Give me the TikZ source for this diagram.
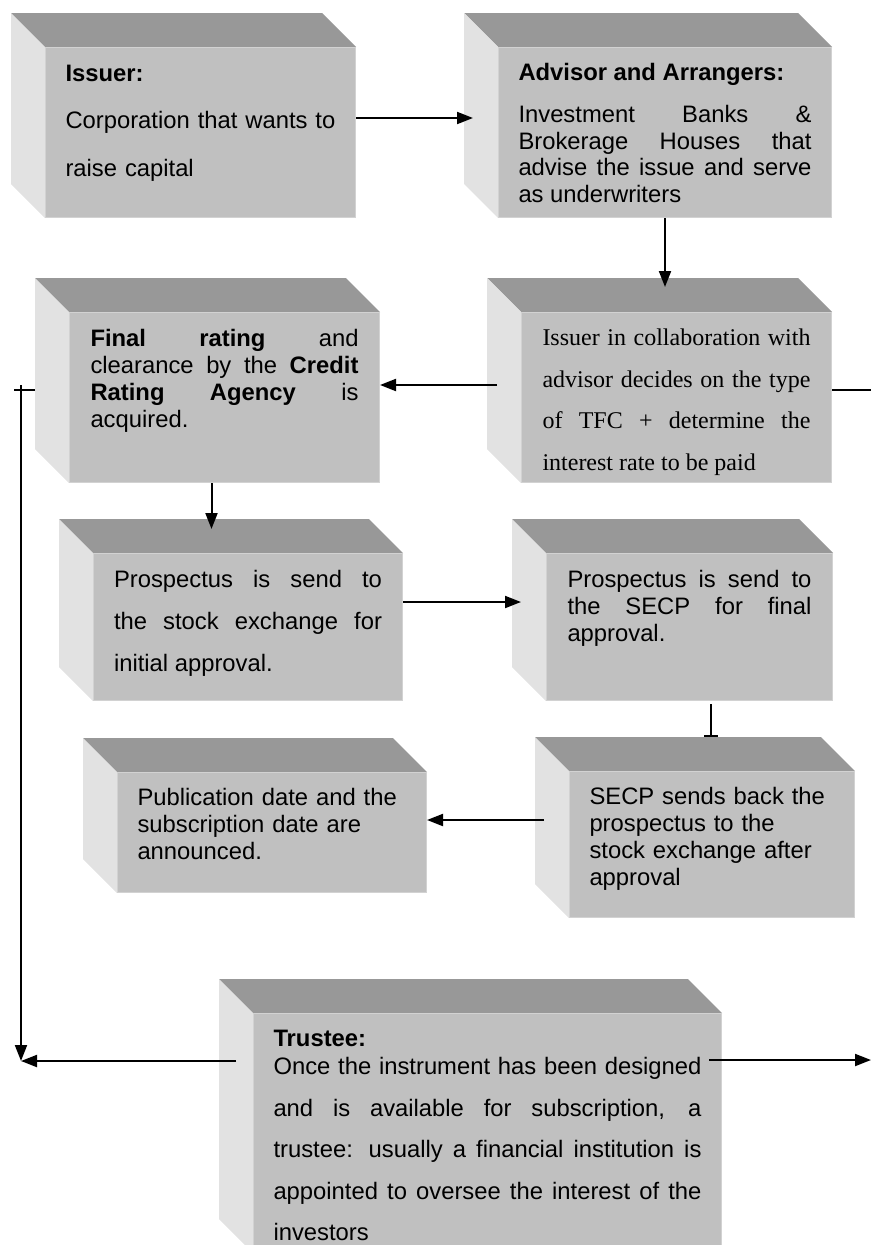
\documentclass[tikz,border=0pt]{standalone}
\usepackage{fontspec}
\setmainfont{Liberation Sans}
\newfontfamily\timesfont{Liberation Serif}
\usepackage{xcolor}
\usepackage{tikz}
\usetikzlibrary{
  positioning,
  arrows.meta,
  backgrounds,
  calc
}
\hbadness=10000
\definecolor{frontgray}{RGB}{192,192,192}
\definecolor{topgray}{RGB}{152,152,152}
\definecolor{sidegray}{RGB}{226,226,226}
\definecolor{edgegray}{RGB}{210,210,210}
\definecolor{arrowcolor}{RGB}{0,0,0}
\tikzset{
  frontface/.style={
    rectangle, anchor=north west, fill=frontgray, draw=edgegray, line width=1pt,
    inner xsep=20pt, inner ysep=0pt, text height=34pt, align=justify,
    font=\fontsize{23.8}{27}\selectfont
  },
  topface/.style={fill=topgray},
  sideface/.style={fill=sidegray},
  flowarrow/.style={
    -{Triangle[length=16pt,width=12pt]}, line width=2pt, draw=arrowcolor
  },
  stoparrow/.style={
    -{Bar[width=14pt]}, line width=2pt, draw=arrowcolor
  },
  railline/.style={
    line width=2pt, draw=arrowcolor
  }
}

\begin{document}
\begin{tikzpicture}[x=1pt, y=-1pt]
        \useasboundingbox (0,0) rectangle (871,1245);
        % front faces
        \node[frontface, minimum width=310pt, text width=270pt, text depth=136pt, align=left,
              font=\fontsize{23.8}{48}\selectfont] (issuer) at (45,47)
          {\textbf{Issuer:}\\[-1pt]Corporation that wants to\\raise capital};
        \node[frontface, minimum width=333pt, text width=293pt, text height=33pt, text depth=137pt,
              font=\fontsize{23.8}{26.7}\selectfont] (advisor) at (498,47)
          {\textbf{Advisor and Arrangers:}\\[15.3pt]Investment Banks \&\linebreak
           Brokerage Houses that\linebreak advise the issue and serve\linebreak as underwriters};
        \node[frontface, minimum width=310pt, text width=268pt, inner xsep=21pt, text height=33pt,
              text depth=137pt, font=\timesfont\fontsize{24}{41.5}\selectfont] (collab) at (521,312)
          {Issuer in collaboration with\linebreak advisor decides on the type\linebreak
           of TFC + determine the\linebreak interest rate to be paid};
        \node[frontface, minimum width=310pt, text width=268pt, inner xsep=21pt, text depth=136pt]
          (rating) at (69,312)
          {\rightskip=11pt\relax\textbf{Final rating} and\linebreak clearance by the \textbf{Credit}\linebreak
           \textbf{Rating Agency} is\linebreak acquired.};
        \node[frontface, minimum width=309pt, text width=268pt, text depth=113pt,
              font=\fontsize{23.8}{42}\selectfont] (seprosp) at (93,553)
          {Prospectus is send to\linebreak the stock exchange for\linebreak initial approval.};
        \node[frontface, minimum width=286pt, text width=244pt, inner xsep=21pt, text depth=113pt]
          (secpprosp) at (546,553)
          {Prospectus is send to\linebreak the SECP for final\linebreak approval.};
        \node[frontface, minimum width=309pt, text width=269pt, text height=33pt, text depth=87pt,
              align=left] (publish) at (117,772)
          {Publication date and the\\subscription date are\\announced.};
        \node[frontface, minimum width=285pt, text width=245pt, text height=33pt, text depth=113pt,
              align=left] (secpback) at (569,771)
          {SECP sends back the\\prospectus to the\\stock exchange after\\approval};
        \node[frontface, minimum width=468pt, text width=428pt, text height=33pt, text depth=206pt,
              font=\fontsize{23.8}{41.6}\selectfont] (trustee) at (253,1013)
          {\textbf{Trustee:}\\[-13.6pt]Once the instrument has been designed\linebreak
           and is available for subscription, a\linebreak trustee: usually a financial institution is\linebreak
           appointed to oversee the interest of the\linebreak investors};
        % top and side of every block
        \begin{scope}[on background layer]
          \foreach \b in {issuer,advisor,collab,rating,seprosp,secpprosp,publish,secpback,trustee}{
            \fill[topface] (\b.north west) -- ++(-34,-34) -- ($(\b.north east)+(-34,-34)$) -- (\b.north east) -- cycle;
            \fill[sideface] (\b.north west) -- ++(-34,-34) -- ($(\b.south west)+(-34,-34)$) -- (\b.south west) -- cycle;
          }
        \end{scope}
        % connectors
        \coordinate (leftrail) at (21,385);
        \coordinate (rightedge) at (871,390);
        \draw[flowarrow] ($(issuer.north east)+(0,71)$) -- ($(advisor.north west)+(-25,71)$);
        \draw[flowarrow] (advisor.south) -- ($(advisor.south |- collab.north)+(0,-25)$);
        \draw[flowarrow] ($(collab.north west)+(-24,73)$) -- ($(rating.north east)+(0,73)$);
        \draw[railline] ($(collab.north east)+(0,78)$) -- (rightedge);
        \draw[railline] ($(rating.north west)+(-34,78)$) -- ($(leftrail)+(-7,5)$);
        \draw[flowarrow] ($(rating.south)+(-13,0)$) coordinate (r1) -- ($(r1 |- seprosp.north)+(0,-24)$);
        \draw[flowarrow] ($(seprosp.north east)+(0,49)$) coordinate (s1) -- ($(secpprosp.north west |- s1)+(-25,0)$);
        \draw[stoparrow] ($(secpprosp.south)+(21,3)$) coordinate (s2) -- ($(s2 |- secpback.north)+(0,-34)$);
        \draw[flowarrow] ($(secpback.north west)+(-25,49)$) coordinate (s3) -- (s3 -| publish.east);
        \coordinate (tleft) at ($(trustee.north west)+(-17,48)$);
        \draw[flowarrow] (leftrail) -- (leftrail |- tleft);
        \draw[flowarrow] (tleft) -- (tleft -| leftrail);
        \draw[flowarrow] ($(trustee.north east)+(-13,47)$) coordinate (tright) -- (tright -| rightedge);
      \end{tikzpicture}
\end{document}
